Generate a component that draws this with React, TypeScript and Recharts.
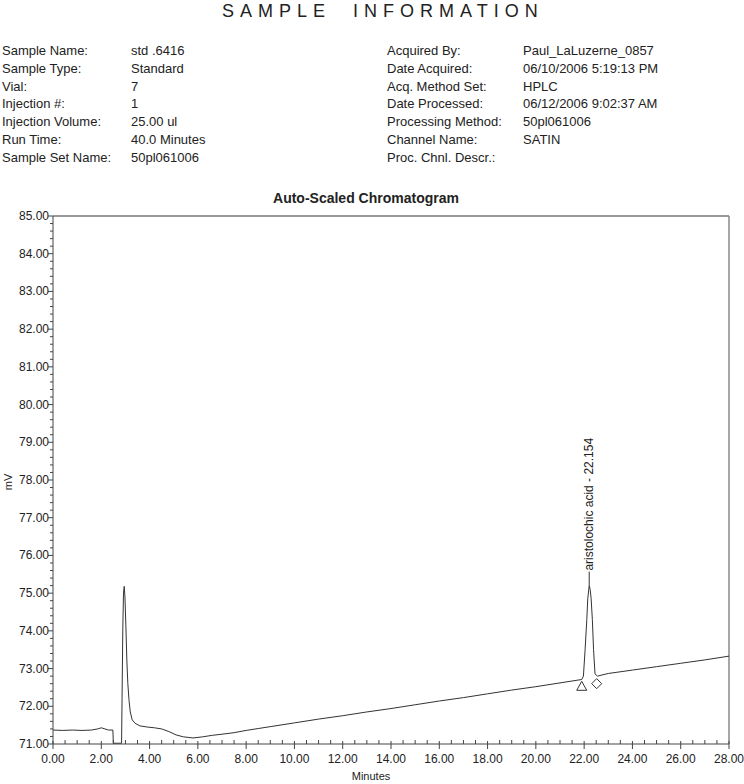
import React from 'react';
import {
  ComposedChart, Line, Scatter, XAxis, YAxis, ReferenceLine, ReferenceDot,
} from 'recharts';

// sample info block (left / right columns)
const leftLabels = ['Sample Name:', 'Sample Type:', 'Vial:', 'Injection #:', 'Injection Volume:', 'Run Time:', 'Sample Set Name:'];
const leftValues = ['std .6416', 'Standard', '7', '1', '25.00 ul', '40.0 Minutes', '50pl061006'];
const rightLabels = ['Acquired By:', 'Date Acquired:', 'Acq. Method Set:', 'Date Processed:', 'Processing Method:', 'Channel Name:', 'Proc. Chnl. Descr.:'];
const rightValues = ['Paul_LaLuzerne_0857', '06/10/2006 5:19:13 PM', 'HPLC', '06/12/2006 9:02:37 AM', '50pl061006', 'SATIN', ''];

// trace (minutes, mV)
const traceTime = [
  0, 0.4, 0.8, 1.2, 1.6, 1.85, 2.0, 2.15, 2.3, 2.48, 2.5, 2.84,
  2.86, 2.89, 2.92, 2.95, 2.98, 3.02, 3.06, 3.1, 3.15, 3.2, 3.28, 3.4, 3.6, 3.9,
  4.2, 4.5, 4.8, 5.1, 5.4, 5.8, 6.2, 6.6, 7.0, 7.5, 8.0, 8.5, 9, 10, 11, 12, 13,
  14, 15, 16, 17, 18, 19, 20, 21, 21.9, 21.97, 22.04, 22.11, 22.15, 22.21, 22.25,
  22.29, 22.34, 22.39, 22.45, 22.55, 23, 24, 25, 26, 27, 28,
];
const traceMv = [
  71.37, 71.36, 71.37, 71.36, 71.37, 71.40, 71.43, 71.40, 71.37, 71.37, 71.02, 71.02,
  72.2, 74.0, 75.0, 75.18, 74.9, 74.1, 73.2, 72.6, 72.15, 71.85, 71.64, 71.55, 71.48, 71.45,
  71.43, 71.40, 71.33, 71.24, 71.19, 71.16, 71.19, 71.23, 71.26, 71.30, 71.36, 71.41, 71.46, 71.56, 71.66, 71.75, 71.85,
  71.94, 72.04, 72.14, 72.23, 72.33, 72.43, 72.52, 72.62, 72.71, 72.80, 73.5, 74.3, 74.85, 75.2, 75.1,
  74.85, 74.3, 73.5, 72.86, 72.80, 72.87, 72.96, 73.05, 73.14, 73.23, 73.33,
];

// peak start / end markers
const markerTime = [21.9, 22.52];
const markerMv = [72.53, 72.6];
const markerShape = ['triangle', 'diamond'];

const peakName = 'aristolochic acid - 22.154';
const peakTime = 22.21;
const peakMv = 75.2;

const xTicks = [0, 2, 4, 6, 8, 10, 12, 14, 16, 18, 20, 22, 24, 26, 28];
const yTicks = [71, 72, 73, 74, 75, 76, 77, 78, 79, 80, 81, 82, 83, 84, 85];
const xMinor = 0.5;
const yMinor = 0.2;

const traceData = traceTime.map((t, i) => ({ t, mv: traceMv[i] }));
const markerData = markerTime.map((t, i) => ({ t, mv: markerMv[i], kind: markerShape[i] }));

const allX: number[] = [];
for (let i = 0; i <= Math.round(28 / xMinor); i++) allX.push(+(i * xMinor).toFixed(2));
const allY: number[] = [];
for (let i = 0; i <= Math.round(14 / yMinor); i++) allY.push(+(71 + i * yMinor).toFixed(2));

const isMajor = (v: number, list: number[]) => list.some(m => Math.abs(m - v) < 1e-6);

const FONT = '"Liberation Sans", Arial, sans-serif';
const AX = '#444';

function XTick({ x, y, payload }: any) {
  const v = payload.value;
  if (!isMajor(v, xTicks)) return <line x1={x} y1={y - 4} x2={x} y2={y} stroke={AX} />;
  return (
    <g>
      <line x1={x} y1={y - 3} x2={x} y2={y + 5} stroke={AX} />
      <text x={x} y={y + 15} textAnchor="middle" dominantBaseline="central" fontSize={12} fill="#222" fontFamily={FONT}>
        {v.toFixed(2)}
      </text>
    </g>
  );
}

function YTick({ x, y, payload }: any) {
  const v = payload.value;
  if (!isMajor(v, yTicks)) return <line x1={x - 3} y1={y} x2={x} y2={y} stroke={AX} />;
  return (
    <g>
      <line x1={x - 5} y1={y} x2={x} y2={y} stroke={AX} />
      <text x={x - 4} y={y} textAnchor="end" dominantBaseline="central" fontSize={12} fill="#222" fontFamily={FONT}>
        {v.toFixed(2)}
      </text>
    </g>
  );
}

function Marker({ cx, cy, payload }: any) {
  if (payload.kind === 'triangle') {
    return <polygon points={`${cx},${cy - 5} ${cx - 5},${cy + 4} ${cx + 5},${cy + 4}`} fill="#fff" stroke="#333" />;
  }
  return <polygon points={`${cx},${cy - 5} ${cx + 5},${cy} ${cx},${cy + 5} ${cx - 5},${cy}`} fill="#fff" stroke="#333" />;
}

function PeakLabel({ cx, cy }: any) {
  return (
    <g>
      <line x1={cx} y1={cy} x2={cx} y2={cy - 14} stroke="#333" />
      <text
        x={cx} y={cy - 15} transform={`rotate(-90 ${cx} ${cy - 15})`}
        textAnchor="start" dominantBaseline="central" fontSize={12} fill="#222" fontFamily={FONT}
      >
        {peakName}
      </text>
    </g>
  );
}

const txt = (extra: React.CSSProperties): React.CSSProperties => ({
  position: 'absolute', fontFamily: FONT, fontSize: 13, color: '#222', whiteSpace: 'pre', lineHeight: '18px', ...extra,
});

export default function App() {
  return (
    <div style={{ position: 'absolute', left: 0, top: 0, width: 744, height: 784, background: '#fff', overflow: 'hidden' }}>
      <div style={txt({ left: 222, top: 0, fontSize: 18, letterSpacing: 6, lineHeight: '22px' })}>SAMPLE  INFORMATION</div>
      {leftLabels.map((s, i) => (
        <div key={'ll' + i} style={txt({ left: 2, top: 42 + i * 17.8 })}>{s}</div>
      ))}
      {leftValues.map((s, i) => (
        <div key={'lv' + i} style={txt({ left: 131, top: 42 + i * 17.8 })}>{s}</div>
      ))}
      {rightLabels.map((s, i) => (
        <div key={'rl' + i} style={txt({ left: 387, top: 42 + i * 17.8 })}>{s}</div>
      ))}
      {rightValues.map((s, i) => (
        <div key={'rv' + i} style={txt({ left: 523, top: 42 + i * 17.8 })}>{s}</div>
      ))}
      <div style={txt({ left: 0, width: 732, top: 189, textAlign: 'center', fontWeight: 'bold', fontSize: 14 })}>
        Auto-Scaled Chromatogram
      </div>
      <div style={txt({ left: 8, top: 482, fontSize: 11, transform: 'translate(-50%, -50%) rotate(-90deg)' })}>mV</div>
      <div style={txt({ left: 0, width: 742, top: 767, textAlign: 'center', fontSize: 11 })}>Minutes</div>

      <div style={{ position: 'absolute', left: 0, top: 0 }}>
        <ComposedChart width={744} height={784} margin={{ top: 216, right: 15, bottom: 16, left: 3 }}>
          <XAxis
            dataKey="t" type="number" domain={[0, 28]} ticks={allX} interval={0}
            tickSize={0} tickMargin={0} tick={<XTick />} height={24} stroke={AX} allowDataOverflow
          />
          <YAxis
            dataKey="mv" type="number" domain={[71, 85]} ticks={allY} interval={0}
            tickSize={0} tickMargin={0} tick={<YTick />} width={50} stroke={AX} allowDataOverflow
          />
          <ReferenceLine y={85} stroke="#999" strokeWidth={2} />
          <ReferenceLine x={28} stroke="#888" strokeWidth={1.5} />
          <Line
            data={traceData} dataKey="mv" type="linear" stroke="#333" strokeWidth={1}
            dot={false} activeDot={false} isAnimationActive={false}
          />
          <Scatter data={markerData} dataKey="mv" shape={<Marker />} isAnimationActive={false} />
          <ReferenceDot x={peakTime} y={peakMv} shape={<PeakLabel />} />
        </ComposedChart>
      </div>
    </div>
  );
}
